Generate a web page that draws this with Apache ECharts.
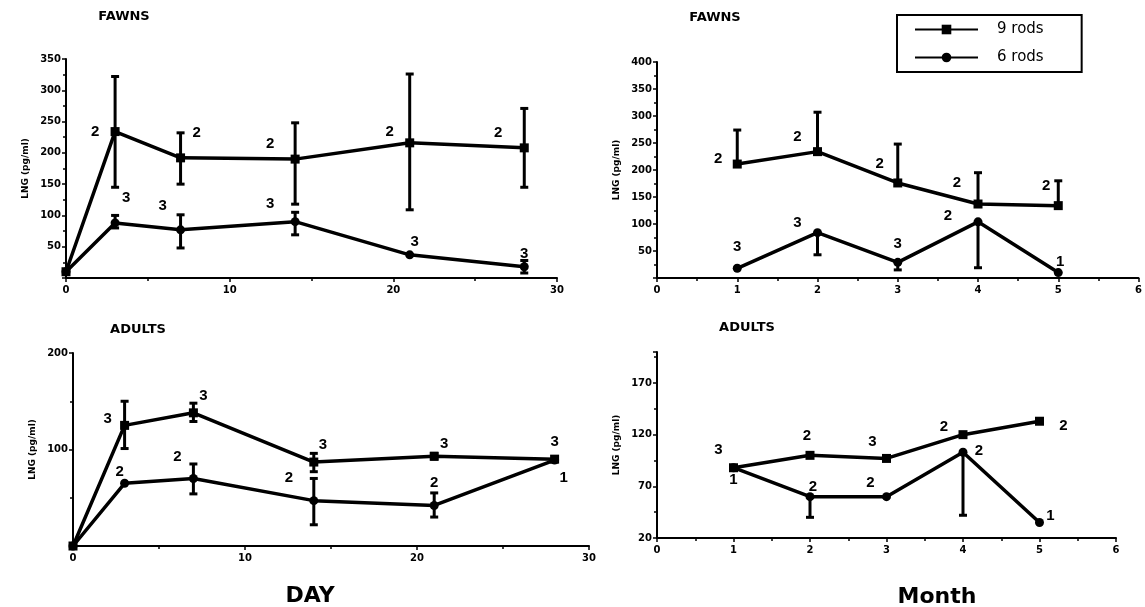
<!DOCTYPE html>
<html>
<head>
<meta charset="utf-8">
<script src="https://cdn.jsdelivr.net/npm/echarts@6/dist/echarts.min.js"></script>
<style>
  html, body { margin: 0; padding: 0; background: #fff; }
  #chart { width: 1145px; height: 607px; }
</style>
</head>
<body>
<div id="chart"></div>
<script>
  // FAWNS, by day
  const fawnDays = [0, 3, 7, 14, 21, 28];
  const fawnDay9 = [10, 234, 192, 190, 216, 208];
  const fawnDay9Low = [null, 145, 150, 118, 109, 145];
  const fawnDay9High = [null, 322, 232, 248, 326, 271];
  const fawnDay9N = [null, 2, 2, 2, 2, 2];
  const fawnDay6 = [10, 88, 77, 90, 37, 18];
  const fawnDay6Low = [null, 80, 48, 69, null, 8];
  const fawnDay6High = [null, 100, 101, 105, null, 28];
  const fawnDay6N = [null, 3, 3, 3, 3, 3];

  // FAWNS, by month
  const months = [1, 2, 3, 4, 5];
  const fawnMonth9 = [211, 234, 176, 137, 134];
  const fawnMonth9High = [274, 307, 248, 195, 180];
  const fawnMonth9N = [2, 2, 2, 2, 2];
  const fawnMonth6 = [18, 84, 29, 104, 10];
  const fawnMonth6Low = [18, 43, 15, 19, 10];
  const fawnMonth6N = [3, 3, 3, 2, 1];

  // ADULTS, by day
  const adultDays = [0, 3, 7, 14, 21, 28];
  const adultDay9 = [0, 125, 138, 87, 93, 90];
  const adultDay9Low = [null, 101, 129, 77, 90, null];
  const adultDay9High = [null, 150, 148, 96, 96, null];
  const adultDay9N = [null, 3, 3, 3, 3, 3];
  const adultDay6 = [0, 65, 70, 47, 42, 89];
  const adultDay6Low = [null, null, 54, 22, 30, null];
  const adultDay6High = [null, null, 85, 70, 55, null];
  const adultDay6N = [null, 2, 2, 2, 2, 1];

  // ADULTS, by month
  const adultMonth9 = [88, 100, 97, 120, 133];
  const adultMonth9N = [3, 2, 3, 2, 2];
  const adultMonth6 = [88, 60, 60, 103, 35];
  const adultMonth6Low = [88, 40, 60, 42, 35];
  const adultMonth6N = [1, 2, 2, 2, 1];

  const seriesNames = ['9 rods', '6 rods'];

  // label offsets (px) for the n= numbers, per panel / series
  const offsets = {
    fd9: [[0, 0], [-20, 0], [16, -25], [-25, -15], [-20, -11], [-26, -15]],
    fd6: [[0, 0], [11, -25], [-18, -24], [-25, -18], [5, -13], [0, -13]],
    fm9: [[-19, -5], [-20, -15], [-18, -19], [-21, -21], [-12, -20]],
    fm6: [[0, -21], [-20, -10], [0, -18], [-30, -6], [2, -11]],
    ad9: [[0, 0], [-17, -7], [10, -17], [9, -17], [10, -12], [0, -17]],
    ad6: [[0, 0], [-5, -11], [-16, -22], [-25, -23], [0, -23], [9, 18]],
    am9: [[-15, -18], [-3, -19], [-14, -17], [-19, -8], [24, 5]],
    am6: [[0, 12], [3, -10], [-16, -14], [16, -1], [11, -7]]
  };

  const tickFont = { fontSize: 10, fontWeight: 'bold', color: '#000', fontFamily: 'DejaVu Sans' };
  const axisLine = { lineStyle: { color: '#000', width: 2 } };

  function points(xs, ys, ns, offs) {
    return xs.map((x, i) => ({
      value: [x, ys[i]],
      label: ns[i] == null ? { show: false } : { show: true, formatter: String(ns[i]), offset: offs[i] }
    }));
  }

  function lineSeries(name, symbol, idx, xs, ys, ns, offs) {
    return {
      name: name, type: 'line', xAxisIndex: idx, yAxisIndex: idx,
      symbol: symbol, symbolSize: 9, z: 4,
      lineStyle: { color: '#000', width: 3.5 },
      itemStyle: { color: '#000' },
      label: { show: true, position: 'inside', color: '#000', fontSize: 15, fontWeight: 'bold', fontFamily: 'Liberation Sans' },
      data: points(xs, ys, ns, offs)
    };
  }

  // error bars: [x, mean, low, high]
  function errorSeries(idx, xs, ys, lows, highs) {
    const data = [];
    xs.forEach((x, i) => {
      const lo = lows ? lows[i] : null;
      const hi = highs ? highs[i] : null;
      if (lo == null && hi == null) return;
      data.push([x, ys[i], lo == null ? ys[i] : lo, hi == null ? ys[i] : hi]);
    });
    return {
      type: 'custom', xAxisIndex: idx, yAxisIndex: idx, silent: true, z: 3,
      data: data,
      renderItem: function (params, api) {
        const x = api.value(0), m = api.value(1), lo = api.value(2), hi = api.value(3);
        const pLo = api.coord([x, lo]);
        const pHi = api.coord([x, hi]);
        const st = { stroke: '#000', lineWidth: 3 };
        const kids = [{ type: 'line', shape: { x1: pLo[0], y1: pLo[1], x2: pHi[0], y2: pHi[1] }, style: st }];
        if (lo < m) kids.push({ type: 'line', shape: { x1: pLo[0] - 4, y1: pLo[1], x2: pLo[0] + 4, y2: pLo[1] }, style: st });
        if (hi > m) kids.push({ type: 'line', shape: { x1: pHi[0] - 4, y1: pHi[1], x2: pHi[0] + 4, y2: pHi[1] }, style: st });
        return { type: 'group', children: kids };
      }
    };
  }

  function xAxis(idx, min, max, interval) {
    return {
      type: 'value', gridIndex: idx, min: min, max: max, interval: interval,
      axisLine: axisLine,
      axisTick: { lineStyle: { color: '#000', width: 1.5 }, length: 4 },
      minorTick: { show: true, splitNumber: 2, length: 3, lineStyle: { color: '#000', width: 1.5 } },
      splitLine: { show: false },
      axisLabel: Object.assign({ margin: 7 }, tickFont)
    };
  }

  function yAxis(idx, min, max, interval, showMin, showMax) {
    return {
      type: 'value', gridIndex: idx, min: min, max: max, interval: interval,
      name: 'LNG (pg/ml)', nameLocation: 'middle', nameGap: 36,
      nameTextStyle: { fontSize: 9, fontWeight: 'bold', color: '#000', fontFamily: 'DejaVu Sans' },
      axisLine: axisLine,
      axisTick: { lineStyle: { color: '#000', width: 1.5 }, length: 4 },
      minorTick: { show: true, splitNumber: 2, length: 3, lineStyle: { color: '#000', width: 1.5 } },
      splitLine: { show: false },
      axisLabel: Object.assign({ margin: 5, showMinLabel: showMin, showMaxLabel: showMax }, tickFont)
    };
  }

  function text(t, x, y, size) {
    return {
      type: 'text', x: x, y: y,
      style: { text: t, fill: '#000', font: 'bold ' + size + 'px "DejaVu Sans"', textAlign: 'center', textVerticalAlign: 'middle' }
    };
  }

  const chart = echarts.init(document.getElementById('chart'));
  chart.setOption({
    animation: false,
    backgroundColor: '#fff',
    legend: {
      data: seriesNames, orient: 'vertical', left: 897, top: 15,
      padding: [7, 38, 7, 17], itemGap: 13, itemWidth: 63, itemHeight: 12,
      borderColor: '#000', borderWidth: 2,
      textStyle: { fontSize: 15, color: '#000', fontFamily: 'DejaVu Sans', padding: [0, 0, 0, 14] }
    },
    grid: [
      { left: 66, top: 59, width: 491, height: 219 },
      { left: 657, top: 62, width: 483, height: 216 },
      { left: 73, top: 353, width: 516, height: 193 },
      { left: 657, top: 352, width: 459, height: 186 }
    ],
    xAxis: [
      xAxis(0, 0, 30, 10),
      xAxis(1, 0, 6, 1),
      xAxis(2, 0, 30, 10),
      xAxis(3, 0, 6, 1)
    ],
    yAxis: [
      yAxis(0, 0, 350, 50, false, true),
      yAxis(1, 0, 400, 50, false, true),
      yAxis(2, 0, 200, 100, false, true),
      yAxis(3, 20, 200, 50, true, false)
    ],
    graphic: [
      text('FAWNS', 124, 17, 13),
      text('FAWNS', 715, 18, 13),
      text('ADULTS', 138, 330, 13),
      text('ADULTS', 747, 328, 13),
      text('DAY', 310, 596, 22),
      text('Month', 937, 597, 22)
    ],
    series: [
      errorSeries(0, fawnDays, fawnDay9, fawnDay9Low, fawnDay9High),
      errorSeries(0, fawnDays, fawnDay6, fawnDay6Low, fawnDay6High),
      lineSeries(seriesNames[0], 'rect', 0, fawnDays, fawnDay9, fawnDay9N, offsets.fd9),
      lineSeries(seriesNames[1], 'circle', 0, fawnDays, fawnDay6, fawnDay6N, offsets.fd6),

      errorSeries(1, months, fawnMonth9, null, fawnMonth9High),
      errorSeries(1, months, fawnMonth6, fawnMonth6Low, null),
      lineSeries(seriesNames[0], 'rect', 1, months, fawnMonth9, fawnMonth9N, offsets.fm9),
      lineSeries(seriesNames[1], 'circle', 1, months, fawnMonth6, fawnMonth6N, offsets.fm6),

      errorSeries(2, adultDays, adultDay9, adultDay9Low, adultDay9High),
      errorSeries(2, adultDays, adultDay6, adultDay6Low, adultDay6High),
      lineSeries(seriesNames[0], 'rect', 2, adultDays, adultDay9, adultDay9N, offsets.ad9),
      lineSeries(seriesNames[1], 'circle', 2, adultDays, adultDay6, adultDay6N, offsets.ad6),

      errorSeries(3, months, adultMonth6, adultMonth6Low, null),
      lineSeries(seriesNames[0], 'rect', 3, months, adultMonth9, adultMonth9N, offsets.am9),
      lineSeries(seriesNames[1], 'circle', 3, months, adultMonth6, adultMonth6N, offsets.am6)
    ]
  });
</script>
</body>
</html>
